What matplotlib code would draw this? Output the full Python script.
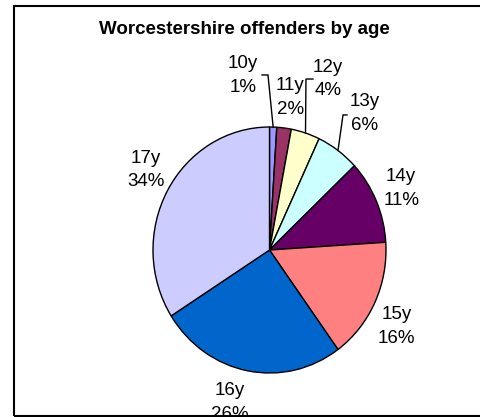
import numpy as np
import matplotlib
matplotlib.use('Agg')
import matplotlib.pyplot as plt
from matplotlib.patches import Rectangle

plt.rcParams['font.family'] = ['Liberation Sans', 'DejaVu Sans']

# offenders by age group (percent)
ages = ['10y', '11y', '12y', '13y', '14y', '15y', '16y', '17y']
shares = [1, 2, 4, 6, 11, 16, 26, 34]
colors = ['#9999FF', '#993366', '#FFFFCC', '#CCFFFF',
          '#660066', '#FF8080', '#0066CC', '#CCCCFF']

# label placement in pie units (x right, y up)
label_pos = [(-0.23, 1.42), (0.18, 1.24), (0.50, 1.39), (0.82, 1.11),
             (1.13, 0.50), (1.09, -0.62), (-0.34, -1.24), (-1.06, 0.65)]
# leader line: (tick start, elbow) or None
leaders = [((-0.064, 1.423), (-0.013, 1.423)), None,
           ((0.373, 1.39), (0.313, 1.39)),
           ((0.665, 1.098), (0.631, 1.098)),
           None, None, None, None]

W, H = 481, 417
fig = plt.figure(figsize=(W / 100, H / 100), dpi=100)
ax = fig.add_axes([0, 0, 1, 1])

ax.pie(shares, colors=colors, startangle=90, counterclock=False,
       wedgeprops=dict(edgecolor='black', linewidth=1.0))

# pie centre and radii in pixels (slightly taller than wide)
cx, cy = 269.5, H - 250
rx, ry = 116.5, 123
ax.set_aspect('auto')
ax.set_xlim(-cx / rx, (W - cx) / rx)
ax.set_ylim(-cy / ry, (H - cy) / ry)
ax.axis('off')

cum = np.cumsum([0] + shares[:-1])
for i, (age, v) in enumerate(zip(ages, shares)):
    lx, ly = label_pos[i]
    ax.text(lx, ly, f'{age}\n{v}%', ha='center', va='center',
            fontsize=13.5, linespacing=1.5, color='black')
    if leaders[i] is not None:
        mid = np.radians(90 - 360 * (cum[i] + v / 2) / 100)
        (sx, sy), (ex, ey) = leaders[i]
        ax.plot([sx, ex, np.cos(mid)], [sy, ey, np.sin(mid)],
                color='black', linewidth=1.0, solid_joinstyle='miter')

fig.text(244 / W, 1 - 30 / H, 'Worcestershire offenders by age',
         ha='center', va='center', fontsize=13.5, fontweight='bold')

# chart area border
fig.patches.append(Rectangle((13.5 / W, 1 / H), 1.0, (411.5 - 1) / H,
                             transform=fig.transFigure, fill=False,
                             edgecolor='black', linewidth=1.5))

fig.savefig('out.png', dpi=100)
